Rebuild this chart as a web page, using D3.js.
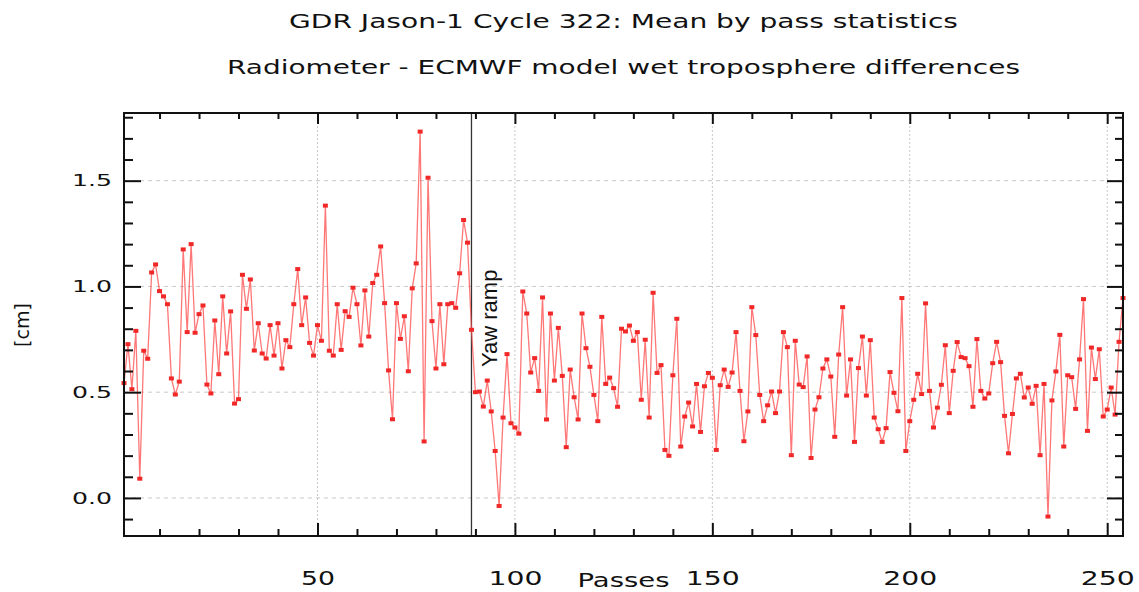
<!DOCTYPE html>
<html>
<head>
<meta charset="utf-8">
<script src="https://cdn.jsdelivr.net/npm/d3@7"></script>
<style>
  body { margin: 0; background: #fff; }
  svg { display: block; }
</style>
</head>
<body>
<svg id="chart"></svg>
<script>
const width = 1139;
const height = 592;
const margin = {top: 113, right: 16, bottom: 56, left: 124};

const titleLines = ['GDR Jason-1 Cycle 322: Mean by pass statistics',
                    'Radiometer - ECMWF model wet troposphere differences'];
const xLabel = 'Passes';
const yLabel = '[cm]';
const eventLabel = 'Yaw ramp';
const eventPass = 89;

const xMajorTicks = [50, 100, 150, 200, 250];
const xMinorTicks = [10, 20, 30, 40, 60, 70, 80, 90, 110, 120, 130, 140, 160, 170, 180, 190,
                     210, 220, 230, 240];
const yMajorTicks = [0.0, 0.5, 1.0, 1.5];
const yMinorTicks = [-0.1, 0.1, 0.2, 0.3, 0.4, 0.6, 0.7, 0.8, 0.9, 1.1, 1.2, 1.3, 1.4, 1.6, 1.7, 1.8];

// mean difference per pass (pass number = index + 1)
const meanValues = [
  0.543, 0.727, 0.514, 0.790, 0.091, 0.696, 0.658, 1.066, 1.104, 0.978,
  0.953, 0.916, 0.565, 0.489, 0.550, 1.175, 0.784, 1.200, 0.781, 0.869,
  0.910, 0.536, 0.494, 0.839, 0.585, 0.953, 0.683, 0.882, 0.446, 0.467,
  1.055, 0.894, 1.033, 0.697, 0.826, 0.683, 0.659, 0.817, 0.673, 0.826,
  0.612, 0.746, 0.713, 0.916, 1.082, 0.817, 0.948, 0.733, 0.673, 0.817,
  0.743, 1.382, 0.696, 0.673, 0.916, 0.700, 0.883, 0.856, 0.994, 0.916,
  0.721, 0.981, 0.763, 1.016, 1.055, 1.189, 0.921, 0.603, 0.372, 0.921,
  0.752, 0.859, 0.599, 0.991, 1.109, 1.732, 0.267, 1.514, 0.836, 0.612,
  0.916, 0.632, 0.916, 0.921, 0.899, 1.062, 1.314, 1.207, 0.795, 0.500,
  0.503, 0.432, 0.555, 0.409, 0.222, -0.038, 0.380, 0.680, 0.353, 0.333,
  0.304, 0.976, 0.872, 0.593, 0.661, 0.506, 0.948, 0.371, 0.872, 0.555,
  0.804, 0.577, 0.240, 0.607, 0.476, 0.371, 0.872, 0.708, 0.620, 0.487,
  0.363, 0.856, 0.539, 0.569, 0.519, 0.431, 0.800, 0.787, 0.815, 0.743,
  0.784, 0.464, 0.748, 0.380, 0.970, 0.591, 0.628, 0.227, 0.199, 0.580,
  0.847, 0.243, 0.385, 0.451, 0.338, 0.539, 0.312, 0.528, 0.591, 0.568,
  0.227, 0.533, 0.607, 0.525, 0.593, 0.784, 0.506, 0.268, 0.409, 0.902,
  0.770, 0.487, 0.363, 0.438, 0.503, 0.401, 0.503, 0.784, 0.713, 0.202,
  0.743, 0.536, 0.524, 0.669, 0.189, 0.418, 0.476, 0.612, 0.655, 0.574,
  0.289, 0.678, 0.902, 0.484, 0.655, 0.265, 0.614, 0.763, 0.484, 0.746,
  0.380, 0.325, 0.265, 0.330, 0.595, 0.497, 0.410, 0.945, 0.222, 0.363,
  0.464, 0.587, 0.491, 0.920, 0.506, 0.333, 0.427, 0.535, 0.722, 0.401,
  0.601, 0.737, 0.666, 0.661, 0.623, 0.431, 0.751, 0.506, 0.470, 0.494,
  0.637, 0.738, 0.642, 0.388, 0.211, 0.397, 0.565, 0.587, 0.475, 0.522,
  0.445, 0.530, 0.202, 0.539, -0.088, 0.461, 0.598, 0.771, 0.243, 0.580,
  0.571, 0.421, 0.655, 0.940, 0.317, 0.711, 0.562, 0.703, 0.385, 0.418,
  0.522, 0.394, 0.738, 0.945
];

const data = meanValues.map((v, i) => ({pass: i + 1, value: v}));

const svg = d3.select('#chart')
            .attr('width', width)
            .attr('height', height);

const x = d3.scaleLinear().domain([1, 254]).range([margin.left, width - margin.right]);
const y = d3.scaleLinear().domain([-0.18, 1.82]).range([height - margin.bottom, margin.top]);

const fontMain = 'DejaVu Sans, sans-serif';

// grid
svg.append('g')
    .selectAll('line')
    .data(yMajorTicks)
    .enter()
    .append('line')
    .attr('x1', x.range()[0]).attr('x2', x.range()[1])
    .attr('y1', d => y(d)).attr('y2', d => y(d))
    .attr('stroke', '#c8c8c8')
    .attr('stroke-width', 1)
    .attr('stroke-dasharray', '4,4');

svg.append('g')
    .selectAll('line')
    .data(xMajorTicks)
    .enter()
    .append('line')
    .attr('x1', d => x(d)).attr('x2', d => x(d))
    .attr('y1', y.range()[0]).attr('y2', y.range()[1])
    .attr('stroke', '#c8c8c8')
    .attr('stroke-width', 1)
    .attr('stroke-dasharray', '2,2');

// event line
svg.append('line')
    .attr('x1', x(eventPass)).attr('x2', x(eventPass))
    .attr('y1', y.range()[0]).attr('y2', y.range()[1])
    .attr('stroke', '#333')
    .attr('stroke-width', 1.3);

svg.append('text')
    .attr('transform', `translate(${x(eventPass) + 26}, 367) rotate(-90)`)
    .attr('font-family', 'Liberation Sans, Arial, sans-serif')
    .attr('font-size', 22)
    .attr('fill', '#111')
    .text(eventLabel);

// series
svg.append('path')
    .datum(data)
    .attr('fill', 'none')
    .attr('stroke', '#ff4a4a')
    .attr('stroke-opacity', 0.75)
    .attr('stroke-width', 1.3)
    .attr('d', d3.line().x(d => x(d.pass)).y(d => y(d.value)));

svg.append('g')
    .selectAll('rect')
    .data(data)
    .enter()
    .append('rect')
    .attr('x', d => x(d.pass) - 2.5)
    .attr('y', d => y(d.value) - 2)
    .attr('width', 5)
    .attr('height', 4)
    .attr('fill', '#f02828');

// axes, ticks pointing inwards
const bottom = height - margin.bottom;
const right = width - margin.right;

const xAxis = svg.append('g').attr('transform', `translate(0, ${bottom})`)
    .call(d3.axisBottom(x).tickValues(xMajorTicks).tickSize(-13).tickPadding(35).tickFormat(d3.format('d')));
svg.append('g').attr('transform', `translate(0, ${bottom})`)
    .call(d3.axisBottom(x).tickValues(xMinorTicks).tickSize(-7).tickFormat(''));
svg.append('g').attr('transform', `translate(0, ${margin.top})`)
    .call(d3.axisTop(x).tickValues(xMajorTicks).tickSize(-11).tickFormat(''));
svg.append('g').attr('transform', `translate(0, ${margin.top})`)
    .call(d3.axisTop(x).tickValues(xMinorTicks).tickSize(-6).tickFormat(''));

const yAxis = svg.append('g').attr('transform', `translate(${margin.left}, 0)`)
    .call(d3.axisLeft(y).tickValues(yMajorTicks).tickSize(-17).tickPadding(12).tickFormat(d3.format('.1f')));
svg.append('g').attr('transform', `translate(${margin.left}, 0)`)
    .call(d3.axisLeft(y).tickValues(yMinorTicks).tickSize(-9).tickFormat(''));
svg.append('g').attr('transform', `translate(${right}, 0)`)
    .call(d3.axisRight(y).tickValues(yMajorTicks).tickSize(-16).tickFormat(''));
svg.append('g').attr('transform', `translate(${right}, 0)`)
    .call(d3.axisRight(y).tickValues(yMinorTicks).tickSize(-8).tickFormat(''));

svg.selectAll('.domain').remove();
svg.selectAll('.tick line').attr('stroke', '#111').attr('stroke-width', 2);

xAxis.selectAll('text')
    .attr('font-family', fontMain)
    .attr('font-size', 20)
    .attr('fill', '#111')
    .attr('textLength', d => String(d).length > 2 ? 54 : 34)
    .attr('lengthAdjust', 'spacingAndGlyphs');

yAxis.selectAll('text')
    .attr('font-family', fontMain)
    .attr('font-size', 16)
    .attr('fill', '#111')
    .attr('textLength', 40)
    .attr('lengthAdjust', 'spacingAndGlyphs');

// frame
svg.append('rect')
    .attr('x', margin.left)
    .attr('y', margin.top)
    .attr('width', right - margin.left)
    .attr('height', bottom - margin.top)
    .attr('fill', 'none')
    .attr('stroke', '#111')
    .attr('stroke-width', 2);

// titles and labels
const midX = (margin.left + right) / 2;

svg.append('text')
    .attr('x', midX).attr('y', 28)
    .attr('text-anchor', 'middle')
    .attr('font-family', fontMain).attr('font-size', 20).attr('fill', '#111')
    .attr('textLength', 669).attr('lengthAdjust', 'spacingAndGlyphs')
    .text(titleLines[0]);

svg.append('text')
    .attr('x', midX).attr('y', 74)
    .attr('text-anchor', 'middle')
    .attr('font-family', fontMain).attr('font-size', 20).attr('fill', '#111')
    .attr('textLength', 793).attr('lengthAdjust', 'spacingAndGlyphs')
    .text(titleLines[1]);

svg.append('text')
    .attr('x', midX).attr('y', 587)
    .attr('text-anchor', 'middle')
    .attr('font-family', fontMain).attr('font-size', 19).attr('fill', '#111')
    .attr('textLength', 92).attr('lengthAdjust', 'spacingAndGlyphs')
    .text(xLabel);

svg.append('text')
    .attr('transform', `translate(29, 325) rotate(-90)`)
    .attr('text-anchor', 'middle')
    .attr('font-family', fontMain).attr('font-size', 19).attr('fill', '#111')
    .text(yLabel);
</script>
</body>
</html>
